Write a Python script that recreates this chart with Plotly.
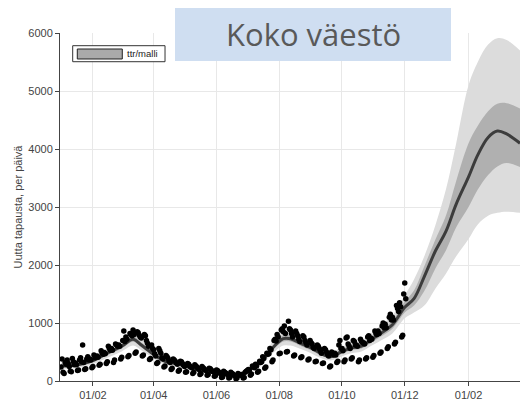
import pandas as pd
import plotly.graph_objects as go

# Daily new cases (points), one row per week starting Fri 1 Jan 2021
daily_cases = [
    240, 380, 150, 130, 320, 290, 360,
    300, 250, 170, 160, 390, 330, 280,
    310, 280, 180, 190, 360, 400, 330,
    620, 320, 200, 210, 380, 420, 360,
    380, 360, 230, 250, 450, 400, 420,
    430, 410, 270, 290, 520, 480, 460,
    490, 470, 300, 330, 600, 560, 530,
    560, 530, 320, 360, 640, 620, 600,
    620, 600, 380, 410, 700, 860, 680,
    760, 720, 420, 440, 820, 800, 780,
    880, 800, 480, 500, 850, 830, 790,
    760, 740, 430, 450, 800, 780, 700,
    650, 600, 370, 390, 620, 560, 540,
    470, 430, 300, 320, 560, 520, 480,
    400, 380, 240, 260, 440, 420, 390,
    340, 320, 200, 220, 380, 360, 340,
    310, 290, 170, 190, 340, 330, 300,
    270, 250, 150, 160, 300, 290, 260,
    240, 230, 130, 150, 280, 260, 240,
    220, 200, 110, 130, 250, 230, 210,
    190, 180, 100, 110, 220, 210, 190,
    170, 160, 80, 90, 190, 180, 160,
    140, 130, 60, 70, 170, 150, 140,
    120, 110, 50, 60, 150, 130, 120,
    100, 90, 40, 50, 130, 110, 100,
    110, 100, 50, 60, 150, 170, 180,
    200, 180, 100, 120, 260, 240, 230,
    290, 260, 150, 170, 340, 320, 330,
    420, 390, 220, 240, 480, 460, 470,
    560, 540, 330, 360, 700, 720, 690,
    800, 760, 470, 480, 880, 900, 850,
    950, 820, 500, 510, 1030, 900, 880,
    820, 760, 430, 450, 860, 820, 780,
    720, 680, 400, 420, 780, 760, 700,
    660, 620, 360, 380, 700, 660, 640,
    580, 560, 330, 340, 620, 600, 560,
    520, 480, 300, 310, 560, 540, 500,
    460, 430, 240, 260, 500, 480, 450,
    480, 450, 320, 340, 620, 700, 560,
    560, 520, 330, 360, 740, 760, 640,
    600, 560, 380, 400, 700, 680, 620,
    620, 600, 330, 360, 720, 680, 660,
    660, 640, 380, 400, 760, 780, 700,
    740, 720, 410, 440, 860, 820, 800,
    860, 820, 480, 500, 950, 1000, 920,
    980, 920, 560, 590, 1100, 1150, 1050,
    1100, 1050, 640, 670, 1300, 1250, 1200,
    1350, 1280, 760, 790, 1500, 1690, 1420,
]
case_dates = pd.date_range("2021-01-01", periods=len(daily_cases), freq="D")

# Model (ttr/malli): median with 50% and 95% bands
model_dates = [
    "2021-01-01", "2021-01-15", "2021-02-01", "2021-02-15", "2021-03-01",
    "2021-03-12", "2021-03-20", "2021-04-01", "2021-04-12", "2021-04-23",
    "2021-05-09", "2021-05-26", "2021-06-11", "2021-06-21", "2021-07-01",
    "2021-07-14", "2021-07-24", "2021-08-05", "2021-08-12", "2021-08-22",
    "2021-09-01", "2021-09-10", "2021-09-20", "2021-09-30", "2021-10-10",
    "2021-10-20", "2021-10-30", "2021-11-10", "2021-11-19", "2021-12-01",
    "2021-12-10", "2021-12-20", "2021-12-31", "2022-01-10", "2022-01-20",
    "2022-02-01", "2022-02-10", "2022-02-20", "2022-03-01", "2022-03-10",
    "2022-03-23",
]
median = [260, 270, 350, 480, 600, 720, 620, 460, 340, 300, 220, 160, 110, 95,
          180, 320, 540, 730, 730, 650, 570, 480, 420, 500, 570, 600, 720, 850,
          970, 1270, 1420, 1800, 2250, 2580, 3050, 3520, 3900, 4200, 4310, 4260,
          4100]
hi95 = [320, 330, 420, 570, 700, 840, 720, 540, 400, 350, 260, 195, 140, 125,
        220, 380, 640, 900, 880, 760, 660, 560, 490, 580, 660, 700, 830, 990,
        1130, 1480, 1750, 2150, 2700, 3300, 4100, 5100, 5500, 5800, 5910, 5880,
        5700]
lo95 = [210, 220, 290, 400, 510, 610, 530, 390, 285, 250, 185, 130, 85, 70,
        145, 265, 450, 610, 610, 550, 480, 400, 355, 420, 480, 510, 610, 720,
        820, 1080, 1180, 1300, 1600, 1850, 2150, 2450, 2700, 2850, 2900, 2920,
        2900]
hi50 = [285, 295, 380, 520, 640, 770, 665, 495, 365, 320, 238, 172, 120, 105,
        195, 345, 580, 790, 790, 700, 615, 520, 455, 540, 615, 645, 770, 915,
        1040, 1370, 1560, 1980, 2450, 2850, 3450, 4100, 4400, 4650, 4780, 4790,
        4700]
lo50 = [240, 250, 325, 445, 560, 675, 580, 430, 315, 280, 205, 148, 100, 85,
        165, 295, 500, 680, 680, 605, 530, 445, 390, 465, 530, 560, 670, 790,
        900, 1180, 1300, 1550, 1950, 2250, 2650, 3000, 3300, 3550, 3700, 3760,
        3690]

fig = go.Figure()
fig.add_trace(go.Scatter(x=model_dates, y=lo95, mode="lines", line=dict(width=0, shape="spline"),
                         hoverinfo="skip"))
fig.add_trace(go.Scatter(x=model_dates, y=hi95, mode="lines", line=dict(width=0, shape="spline"),
                         fill="tonexty", fillcolor="#dcdcdc", hoverinfo="skip"))
fig.add_trace(go.Scatter(x=model_dates, y=lo50, mode="lines", line=dict(width=0, shape="spline"),
                         hoverinfo="skip"))
fig.add_trace(go.Scatter(x=model_dates, y=hi50, mode="lines", line=dict(width=0, shape="spline"),
                         fill="tonexty", fillcolor="#b0b0b0", hoverinfo="skip"))
fig.add_trace(go.Scatter(x=model_dates, y=median, mode="lines", name="ttr/malli",
                         line=dict(color="#3c3c3c", width=3, shape="spline")))
fig.add_trace(go.Scatter(x=case_dates, y=daily_cases, mode="markers",
                         marker=dict(color="black", size=5.5)))

# legend drawn by hand so the box can be small like the original
legend_shapes = [
    dict(type="rect", xref="paper", yref="paper", x0=0.0276, x1=0.2283, y0=0.9175, y1=0.9635,
         fillcolor="white", line=dict(color="#333333", width=1), layer="above"),
    dict(type="rect", xref="paper", yref="paper", x0=0.0376, x1=0.1354, y0=0.9253, y1=0.954,
         fillcolor="#aaaaaa", line=dict(color="#222222", width=1), layer="above"),
]
title_box = dict(type="rect", xref="paper", yref="paper", x0=0.25, x1=0.85, y0=0.9195, y1=1.0718,
                 fillcolor="#cfdef1", line=dict(width=0), layer="above")

fig.update_layout(
    width=520, height=401,
    margin=dict(l=60, r=0, t=33, b=20),
    plot_bgcolor="white", paper_bgcolor="white",
    font=dict(family="Liberation Sans, Arial", size=11, color="#444444"),
    showlegend=False,
    xaxis=dict(
        range=["2020-12-31", "2022-03-23"],
        tickformat="%d/%m", dtick="M2", tick0="2021-02-01",
        showgrid=True, gridcolor="#e8e8e8",
        showline=True, linecolor="#444444", linewidth=1,
        ticks="outside", ticklen=4, tickcolor="#444444",
        zeroline=False,
    ),
    yaxis=dict(
        range=[0, 6000], dtick=1000,
        showgrid=True, gridcolor="#e8e8e8",
        showline=True, linecolor="#444444", linewidth=1,
        ticks="outside", ticklen=4, tickcolor="#444444",
        zeroline=False,
        title=dict(text="Uutta tapausta, per päivä", standoff=3, font=dict(size=11)),
    ),
    shapes=legend_shapes + [title_box],
    annotations=[
        dict(text="ttr/malli", xref="paper", yref="paper", x=0.1413, y=0.9397,
             xanchor="left", yanchor="middle", showarrow=False,
             font=dict(size=9.5, color="#222222")),
        dict(text="Koko väestö", xref="paper", yref="paper",
             x=0.55, y=0.9957, xanchor="center", yanchor="middle",
             showarrow=False,
             font=dict(family="Open Sans", size=31, color="#595959")),
    ],
)

fig.write_html("out.html", config={"displayModeBar": False},
               post_script="document.body.style.margin='0';document.body.style.overflow='hidden';")
